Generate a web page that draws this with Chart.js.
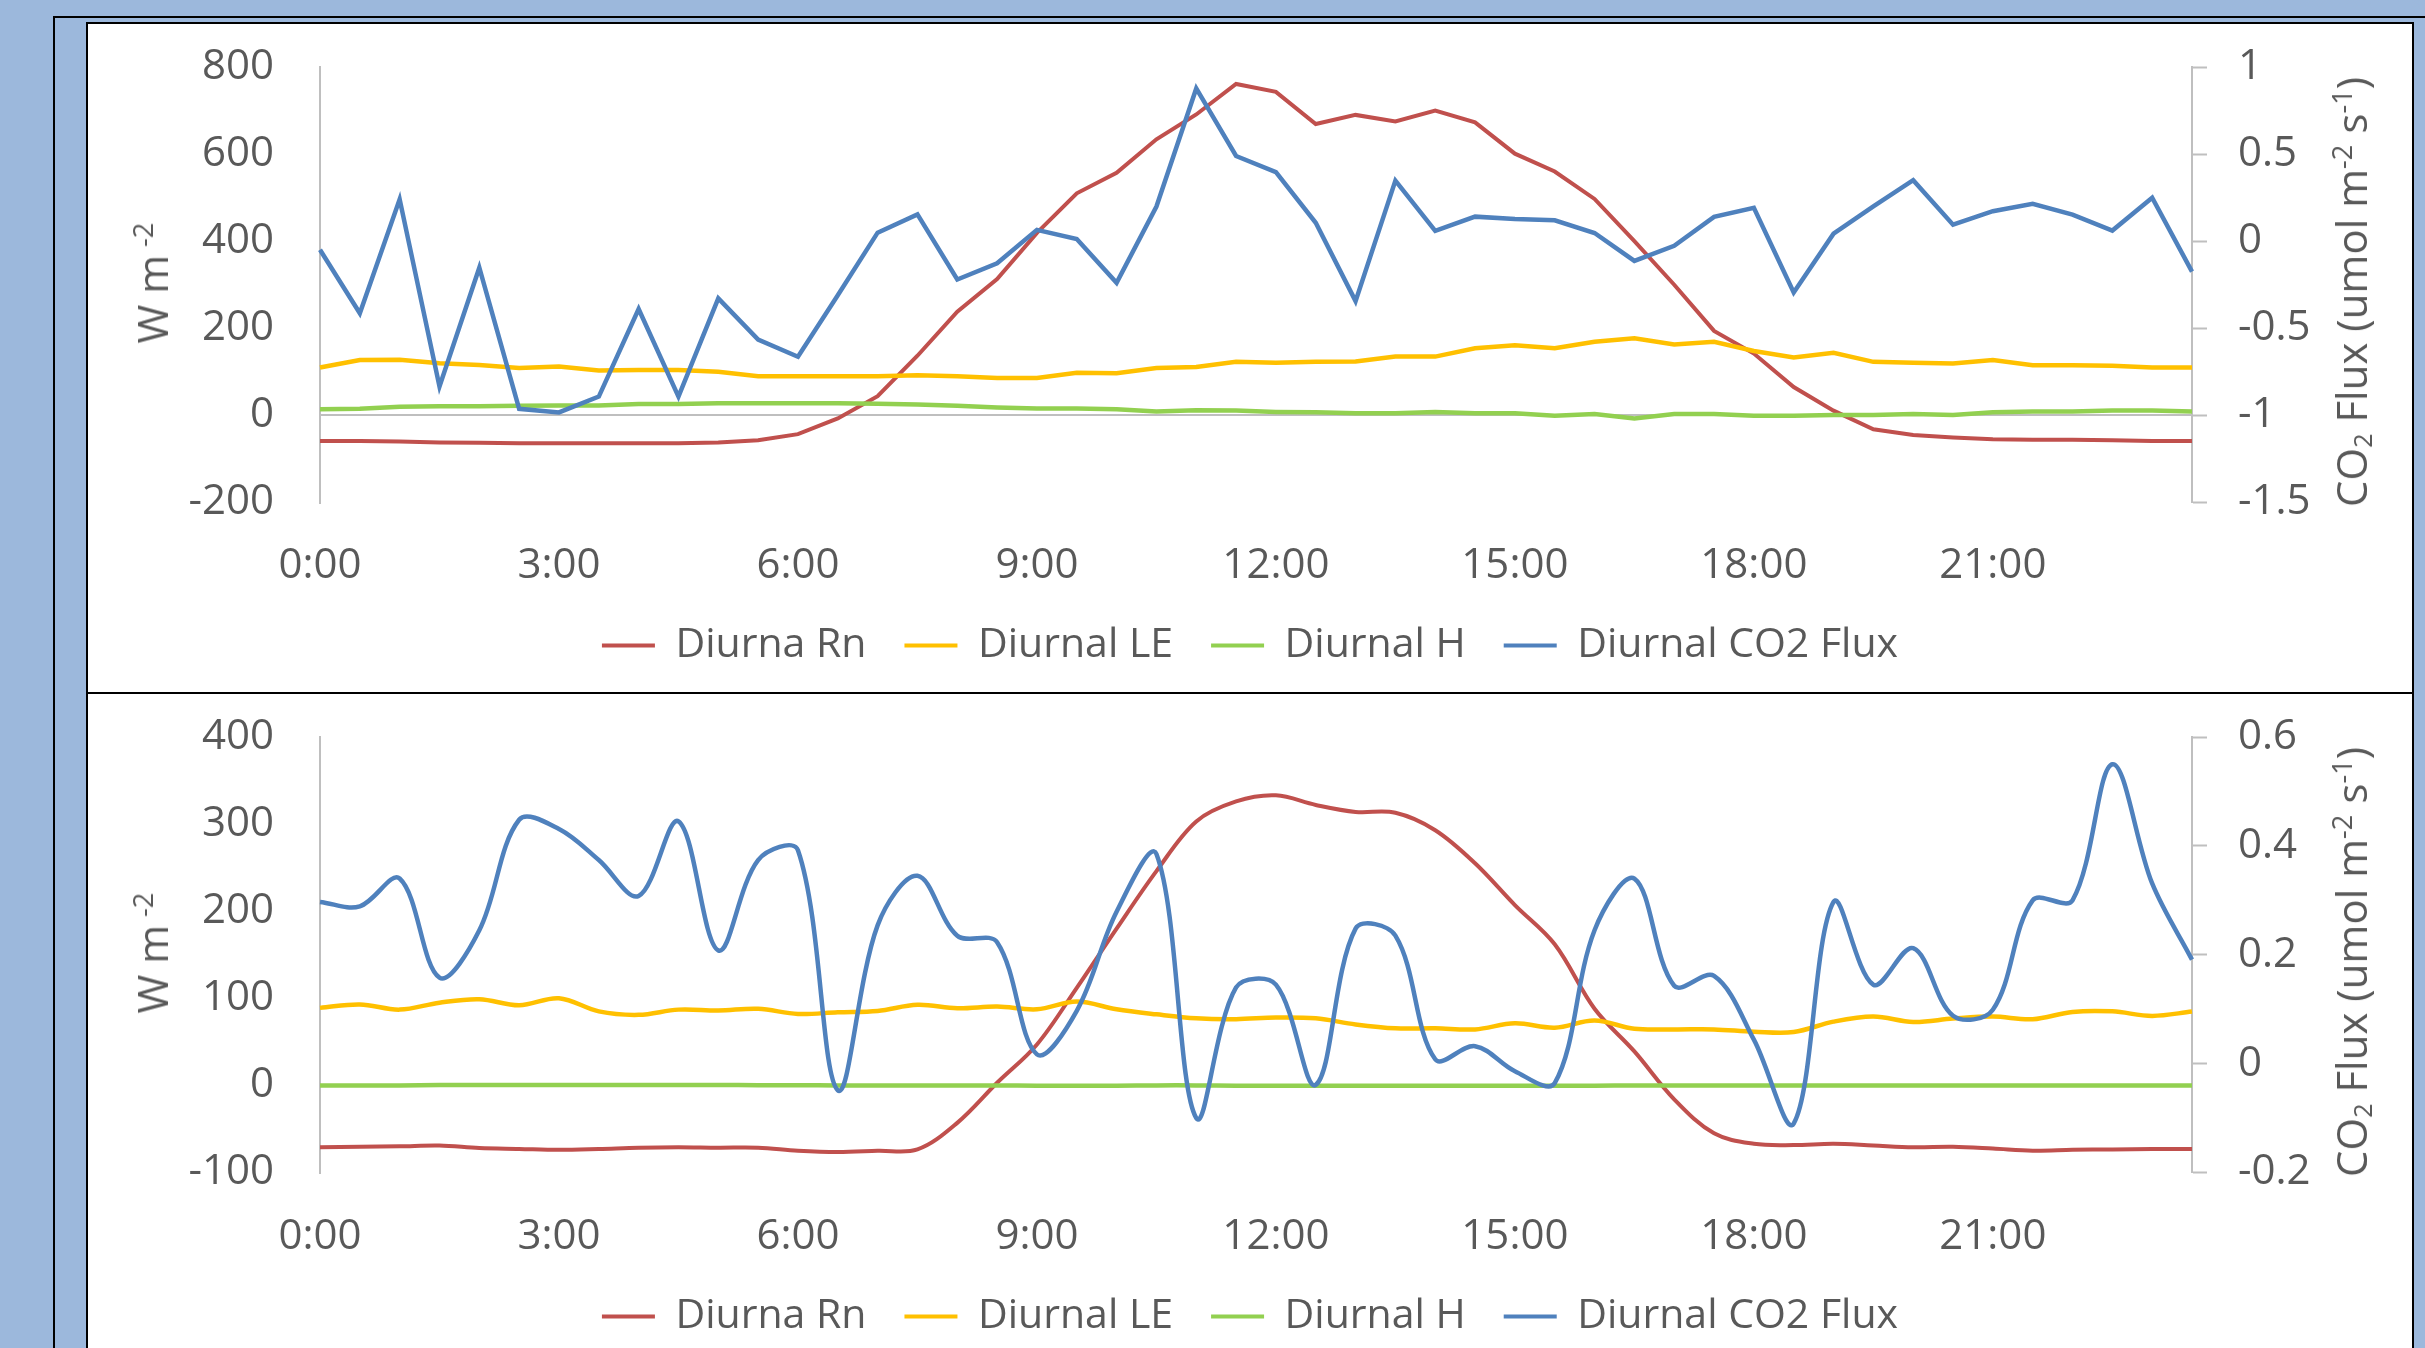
<!DOCTYPE html>
<html><head><meta charset="utf-8">
<script src="https://cdn.jsdelivr.net/npm/chart.js@4.4.1/dist/chart.umd.min.js"></script>
<style>
html,body{margin:0;padding:0;}
body{width:2425px;height:1348px;background:#9cb8dc;position:relative;overflow:hidden;font-family:'Open Sans',sans-serif;}
.vline{position:absolute;left:53px;top:16px;width:2px;height:1340px;background:#000;}
.hline{position:absolute;left:53px;top:16px;width:2380px;height:2px;background:#000;}
.box{position:absolute;left:86px;width:2328px;background:#fff;border:2px solid #000;box-sizing:border-box;}
#box1{top:22px;height:672px;}
#box2{top:692px;height:700px;}
canvas{position:absolute;left:88px;}
#c1{top:24px;}
#c2{top:694px;}
.ttl{position:absolute;color:#595959;font-size:42px;line-height:1;white-space:nowrap;transform:translate(-50%,-50%) rotate(-90deg);}
.sup{font-size:0.65em;position:relative;top:-0.55em;}
.sub{font-size:0.6em;position:relative;top:0.2em;}
</style></head>
<body>
<div class="hline"></div><div class="vline"></div>
<div class="box" id="box1"></div>
<div class="box" id="box2"></div>
<canvas id="c1" width="2324" height="668"></canvas>
<canvas id="c2" width="2324" height="654"></canvas>
<div class="ttl" style="left:152px;top:283px;">W m<span class="sup" style="margin-left:8px">-2</span></div>
<div class="ttl" style="left:2351px;top:292px;">CO<span class="sub">2</span> Flux (umol m<span class="sup">-2</span> s<span class="sup">-1</span>)</div>
<div class="ttl" style="left:152px;top:953px;">W m<span class="sup" style="margin-left:8px">-2</span></div>
<div class="ttl" style="left:2351px;top:962px;">CO<span class="sub">2</span> Flux (umol m<span class="sup">-2</span> s<span class="sup">-1</span>)</div>
<script>
// ---- data ----
const times = ["0:00","0:30","1:00","1:30","2:00","2:30","3:00","3:30","4:00","4:30","5:00","5:30",
  "6:00","6:30","7:00","7:30","8:00","8:30","9:00","9:30","10:00","10:30","11:00","11:30",
  "12:00","12:30","13:00","13:30","14:00","14:30","15:00","15:30","16:00","16:30","17:00","17:30",
  "18:00","18:30","19:00","19:30","20:00","20:30","21:00","21:30","22:00","22:30","23:00","23:30"];
const tickLabels = ["0:00","3:00","6:00","9:00","12:00","15:00","18:00","21:00"];
const seriesNames = ["Diurna Rn","Diurnal LE","Diurnal H","Diurnal CO2 Flux"];

// top chart
const rnTop = [-59,-59,-60,-62,-63,-64,-64,-64,-64,-64,-62,-57,-43,-7,44,137,238,313,419,510,557,634,691,761,
  743,669,690,675,700,673,601,560,497,400,300,194,142,65,11,-32,-45,-51,-55,-56,-56,-57,-59,-59];
const leTop = [110,127,128,120,116,109,112,103,104,104,100,90,90,90,90,92,90,86,86,98,97,109,111,123,
  121,123,124,135,135,154,161,154,169,177,163,169,148,133,144,123,121,119,127,115,115,114,110,110];
const hTop = [14,15,20,21,21,22,23,23,26,26,28,28,28,28,27,25,22,18,16,16,14,9,12,11,
  8,7,5,5,8,5,5,-1,3,-7,3,3,-1,-1,1,1,3,1,7,9,9,11,11,9];
const co2Top = [-0.049,-0.414,0.241,-0.834,-0.152,-0.962,-0.983,-0.892,-0.389,-0.892,-0.328,-0.565,
  -0.663,-0.31,0.049,0.154,-0.220,-0.127,0.065,0.013,-0.239,0.199,0.877,0.489,
  0.396,0.106,-0.344,0.348,0.059,0.141,0.127,0.120,0.047,-0.113,-0.026,0.140,
  0.192,-0.294,0.043,0.200,0.350,0.095,0.172,0.215,0.153,0.061,0.250,-0.175];

// bottom chart
const rnBot = [-71,-70.5,-70,-69,-72,-73,-74,-73,-71.5,-71,-71.5,-71.5,-75,-76.5,-75,-73.5,-43,3,47,112,180,246,303,326,
  333,322,314,313,293,255,207,162,88,39,-16,-55,-67,-68.5,-67,-69,-71,-70.5,-72.5,-75,-74,-73.5,-73,-73];
const leBot = [89,93,87,95,99,92,100,85,81,87,86,88,82,84,85.5,92.5,88.6,90.5,87.4,96.3,87.4,81.6,77,76,
  78,77,70,65.5,65.5,64.3,71.3,66.3,74.5,65,64.3,64.3,61.7,61.3,73.2,79,72.8,76.7,79,76,84.4,85,79.8,84.8];
const hBot = [0,0,0,0.5,0.5,0.5,0.5,0.5,0.5,0.5,0.5,0.3,0.3,0,0,0,0,0,-0.3,-0.3,-0.3,0,0,-0.3,
  -0.3,-0.3,-0.5,-0.5,-0.5,-0.5,-0.5,-0.3,-0.3,0,0,0,0,0,0,0,0,0,0,0,0,0,0,0];
const co2Bot = [0.297,0.289,0.340,0.158,0.245,0.448,0.431,0.374,0.308,0.445,0.208,0.374,
  0.392,-0.049,0.254,0.345,0.235,0.223,0.017,0.097,0.279,0.385,-0.100,0.140,
  0.145,-0.039,0.248,0.235,0.008,0.032,-0.014,-0.036,0.245,0.340,0.143,0.161,
  0.044,-0.110,0.297,0.145,0.212,0.088,0.099,0.300,0.300,0.550,0.331,0.191];

// ---- styling ----
const COLORS = ['#C0504D','#FFC000','#92D050','#4F81BD'];
const WIDTHS = [4,4.5,4.5,4.5];
const TXT = '#595959';
const AXIS = '#bfbfbf';
Chart.defaults.font.family = "'Open Sans', sans-serif";
Chart.defaults.color = TXT;

const numFmt = (v) => String(+Number(v).toFixed(3));

function makeChart(canvasId, series, tension, leftRange, rightRange, geo) {
  const datasets = series.map((d, i) => ({
    label: seriesNames[i], data: d, borderColor: COLORS[i], backgroundColor: COLORS[i],
    borderWidth: WIDTHS[i], pointRadius: 0, pointHoverRadius: 0, tension: tension,
    yAxisID: i === 3 ? 'y1' : 'y', order: 4 - i
  }));
  return new Chart(document.getElementById(canvasId), {
    type: 'line',
    data: { labels: times, datasets },
    options: {
      responsive: false, animation: false,
      layout: { padding: { top: geo.top, bottom: geo.bottom, left: 0, right: 0 } },
      plugins: {
        tooltip: { enabled: false },
        legend: {
          position: 'bottom',
          labels: {
            boxWidth: 53, boxHeight: 4, padding: 38, color: TXT, font: { size: 41 },
            sort: (a, b) => a.datasetIndex - b.datasetIndex,
            generateLabels: (chart) => Chart.defaults.plugins.legend.labels.generateLabels(chart)
              .map(it => Object.assign(it, { lineWidth: 0, fillStyle: it.strokeStyle }))
          }
        }
      },
      scales: {
        x: {
          ticks: {
            autoSkip: false, maxRotation: 0, minRotation: 0, padding: geo.xPad, color: TXT, font: { size: 42 },
            callback: function (v) { const l = this.getLabelForValue(v); return tickLabels.includes(l) ? l : ''; }
          },
          grid: { display: false, drawTicks: false },
          border: { display: false },
          afterFit: (s) => { s.height = geo.xH; s.paddingLeft = 0; s.paddingRight = 0; }
        },
        y: {
          position: 'left', min: leftRange[0], max: leftRange[1],
          ticks: { stepSize: leftRange[2], padding: 46, color: TXT, font: { size: 42 }, callback: numFmt },
          grid: { drawTicks: false, lineWidth: 2,
            color: (c) => (c.tick && c.tick.value === 0) ? AXIS : 'rgba(0,0,0,0)' },
          border: { display: true, color: AXIS, width: 2 },
          afterFit: (s) => { s.width = 232; s.paddingTop = 0; s.paddingBottom = 0; }
        },
        y1: {
          position: 'right', min: rightRange[0], max: rightRange[1],
          ticks: { stepSize: rightRange[2], padding: 31, color: TXT, font: { size: 42 }, callback: numFmt },
          grid: { drawOnChartArea: false, drawTicks: true, tickLength: 15, tickWidth: 2, tickColor: AXIS, color: AXIS },
          border: { display: true, color: AXIS, width: 2 },
          afterFit: (s) => { s.width = 220; s.paddingTop = 0; s.paddingBottom = 0; }
        }
      }
    }
  });
}

makeChart('c1', [rnTop, leTop, hTop, co2Top], 0, [-200, 800, 200], [-1.5, 1, 0.5],
  { top: 43, bottom: 16, xPad: 38.4, xH: 84.5 });
makeChart('c2', [rnBot, leBot, hBot, co2Bot], 0.35, [-100, 400, 100], [-0.2, 0.6, 0.2],
  { top: 43, bottom: 1, xPad: 39.4, xH: 85.5 });
</script>
</body></html>
